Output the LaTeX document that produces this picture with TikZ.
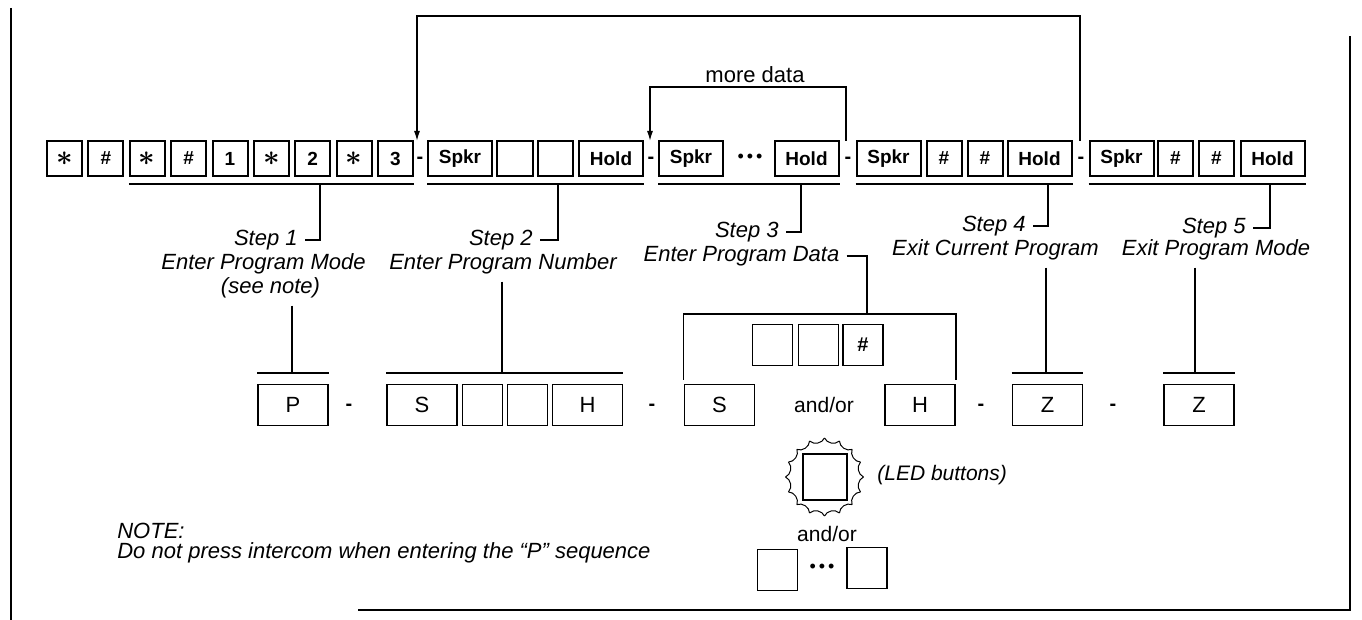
\documentclass[tikz,border=0pt]{standalone}
\usepackage{fontspec}
\setmainfont{Liberation Sans}
\usetikzlibrary{positioning,arrows.meta}

\newcommand\keystar{{\fontsize{15}{15}\selectfont\boldmath$\ast$}}

\tikzset{
  key/.style={draw,line width=1pt,minimum width=17.5pt,minimum height=17.5pt,inner sep=0pt,font=\fontsize{9.5}{11}\selectfont\bfseries},
  widekey/.style={key,minimum width=32pt},
  bigkey/.style={draw,line width=0.8pt,minimum width=35pt,minimum height=20.5pt,inner sep=0pt,font=\fontsize{11}{13}\selectfont},
  smallkey/.style={draw,line width=0.8pt,minimum width=20pt,minimum height=20.5pt,inner sep=0pt,font=\fontsize{10}{12}\selectfont\bfseries},
  lbl/.style={font=\fontsize{11}{13}\selectfont\itshape},
  hyph/.style={inner sep=0pt,font=\fontsize{10}{12}\selectfont\bfseries},
  plain/.style={font=\fontsize{10.5}{12}\selectfont}
}

\begin{document}
\begin{tikzpicture}[x=0.5pt,y=-0.5pt,>={Latex[length=5pt,width=3pt]},line width=0.7pt]
\useasboundingbox (0,0) rectangle (1362,620);

% top row: step 1 to step 5
\foreach \t [count=\i] in {\keystar,\#,\keystar,\#,1,\keystar,2,\keystar,3}
  \node[key] (k\i) at ({64.5+41.375*(\i-1)},158.5) {\t};
\node[hyph] (d1) at (420,160) {-};
\node[widekey] (spkA) at (460,158.5) {Spkr};
\node[key,minimum width=18pt] (eA1) at (515,158.5) {};
\node[key] (eA2) at (555.5,158.5) {};
\node[widekey] (holdA) at (611,158.5) {Hold};
\node[hyph] (d2) at (651,160) {-};
\node[widekey] (spkB) at (691,158.5) {Spkr};
\node[font=\fontsize{9}{11}\selectfont] (dots) at (750,158.5) {\textbullet\,\textbullet\,\textbullet};
\node[widekey] (holdB) at (806.5,158.5) {Hold};
\node[hyph] (d3) at (848,160) {-};
\node[widekey] (spkC) at (888.5,158.5) {Spkr};
\node[key] (hC1) at (944,158.5) {\#};
\node[key] (hC2) at (985,158.5) {\#};
\node[widekey] (holdC) at (1039.5,158.5) {Hold};
\node[hyph] (d4) at (1081,160) {-};
\node[widekey] (spkD) at (1121.5,158.5) {Spkr};
\node[key] (hD1) at (1175.5,158.5) {\#};
\node[key] (hD2) at (1216.5,158.5) {\#};
\node[widekey] (holdD) at (1272.5,158.5) {Hold};

\draw ([yshift=-3.5pt]k3.south west) -- ([yshift=-3.5pt]k9.south east);
\draw ([yshift=-3.5pt]spkA.south west) -- ([yshift=-3.5pt]holdA.south east);
\draw ([yshift=-3.5pt]spkB.south west) -- ([yshift=-3.5pt]holdB.south east);
\draw ([yshift=-3.5pt]spkC.south west) -- ([yshift=-3.5pt]holdC.south east);
\draw ([yshift=-3.5pt]spkD.south west) -- ([yshift=-3.5pt]holdD.south east);

% loops back
\coordinate (in2) at (417,141);
\coordinate (out4) at (1080,141);
\coordinate (top) at (750,16);
\draw[->] (out4) |- (top) -| (in2);
\coordinate (in3) at (650,141);
\coordinate (out3) at (846,141);
\coordinate (mid3) at (748,87);
\draw[->] (out3) |- (mid3) -| (in3);
\node[font=\fontsize{11}{13}\selectfont] (more) at (755,75) {more data};

% step labels
\node[lbl,anchor=east] (s1) at (305,240) {Step 1};
\node[lbl] (m1) at (263.5,264) {Enter Program Mode};
\node[lbl] (n1) at (270.5,288) {(see note)};
\node[lbl,anchor=east] (s2) at (540,240) {Step 2};
\node[lbl] (m2) at (503,264) {Enter Program Number};
\node[lbl,anchor=east] (s3) at (786,232) {Step 3};
\node[lbl] (m3) at (741.5,256) {Enter Program Data};
\node[lbl,anchor=east] (s4) at (1033,226) {Step 4};
\node[lbl] (m4) at (995.5,250) {Exit Current Program};
\node[lbl,anchor=east] (s5) at (1253,228) {Step 5};
\node[lbl] (m5) at (1216,250) {Exit Program Mode};

\coordinate (u1) at (320,183);
\coordinate (u2) at (558,183);
\coordinate (u3) at (801,183);
\coordinate (u4) at (1048,183);
\coordinate (u5) at (1270,183);
\draw (s1.east) -| (u1);
\draw (s2.east) -| (u2);
\draw (s3.east) -| (u3);
\draw (s4.east) -| (u4);
\draw (s5.east) -| (u5);

% bottom row
\node[bigkey] (P) at (293,405) {P};
\node[hyph] (d5) at (349,407) {-};
\node[bigkey] (S2) at (422,405) {S};
\node[smallkey] (e21) at (482.5,405) {};
\node[smallkey] (e22) at (527.5,405) {};
\node[bigkey] (H2) at (587.5,405) {H};
\node[hyph] (d6) at (652,407) {-};
\node[bigkey] (S3) at (719.5,405) {S};
\node[plain] (ao1) at (824,405) {and/or};
\node[bigkey] (H3) at (920,405) {H};
\node[hyph] (d7) at (981,407) {-};
\node[bigkey] (Z4) at (1047.5,405) {Z};
\node[hyph] (d8) at (1113,407) {-};
\node[bigkey] (Z5) at (1199,405) {Z};

\draw ([yshift=5.25pt]P.north west) -- ([yshift=5.25pt]P.north east);
\draw ([yshift=5.25pt]S2.north west) -- ([yshift=5.25pt]H2.north east);
\draw ([yshift=5.25pt]Z4.north west) -- ([yshift=5.25pt]Z4.north east);
\draw ([yshift=5.25pt]Z5.north west) -- ([yshift=5.25pt]Z5.north east);

\coordinate (b1) at (292,374);
\coordinate (b2) at (502,374);
\coordinate (b4) at (1046,374);
\coordinate (b5) at (1195,374);
\draw (b1 |- n1.south) -- (b1);
\draw (b2 |- m2.south) -- (b2);
\draw (b4 |- m4.south) -- (b4);
\draw (b5 |- m5.south) -- (b5);

% step 3 choices
\coordinate (br) at (867,314);
\draw (m3.east) -| (br);
\draw ([yshift=2pt]S3.north west) |- (br) -| ([yshift=2pt]H3.north east);
\node[smallkey] (c1) at (772.5,345) {};
\node[smallkey] (c2) at (818.5,345) {};
\node[smallkey] (c3) at (863,345) {\#};

\node[smallkey,line width=1pt,minimum width=22pt,minimum height=23pt] (led) at (824.5,477) {};
\foreach \a in {0,22.5,...,337.5}
  \draw[shift={(led.center)},line width=0.5pt] (\a:39) to[bend right=55] (\a+22.5:39);
\node[lbl,anchor=west,font=\fontsize{10.5}{12}\selectfont\itshape] (ledtxt) at (870,475) {(LED buttons)};
\node[plain] (ao2) at (827,534) {and/or};
\node[smallkey] (f1) at (777.5,570) {};
\node[font=\fontsize{9}{11}\selectfont] (fdots) at (822,568) {\textbullet\,\textbullet\,\textbullet};
\node[smallkey] (f2) at (867,568) {};

% note
\node[lbl,anchor=west] (note) at (110,531) {NOTE:};
\node[lbl,anchor=west] (noteb) at (110,553) {Do not press intercom when entering the “P” sequence};

% frame
\draw (11,8) -- (11,620);
\draw (358,610) -- (1350,610) -- (1350,36);
\end{tikzpicture}
\end{document}
